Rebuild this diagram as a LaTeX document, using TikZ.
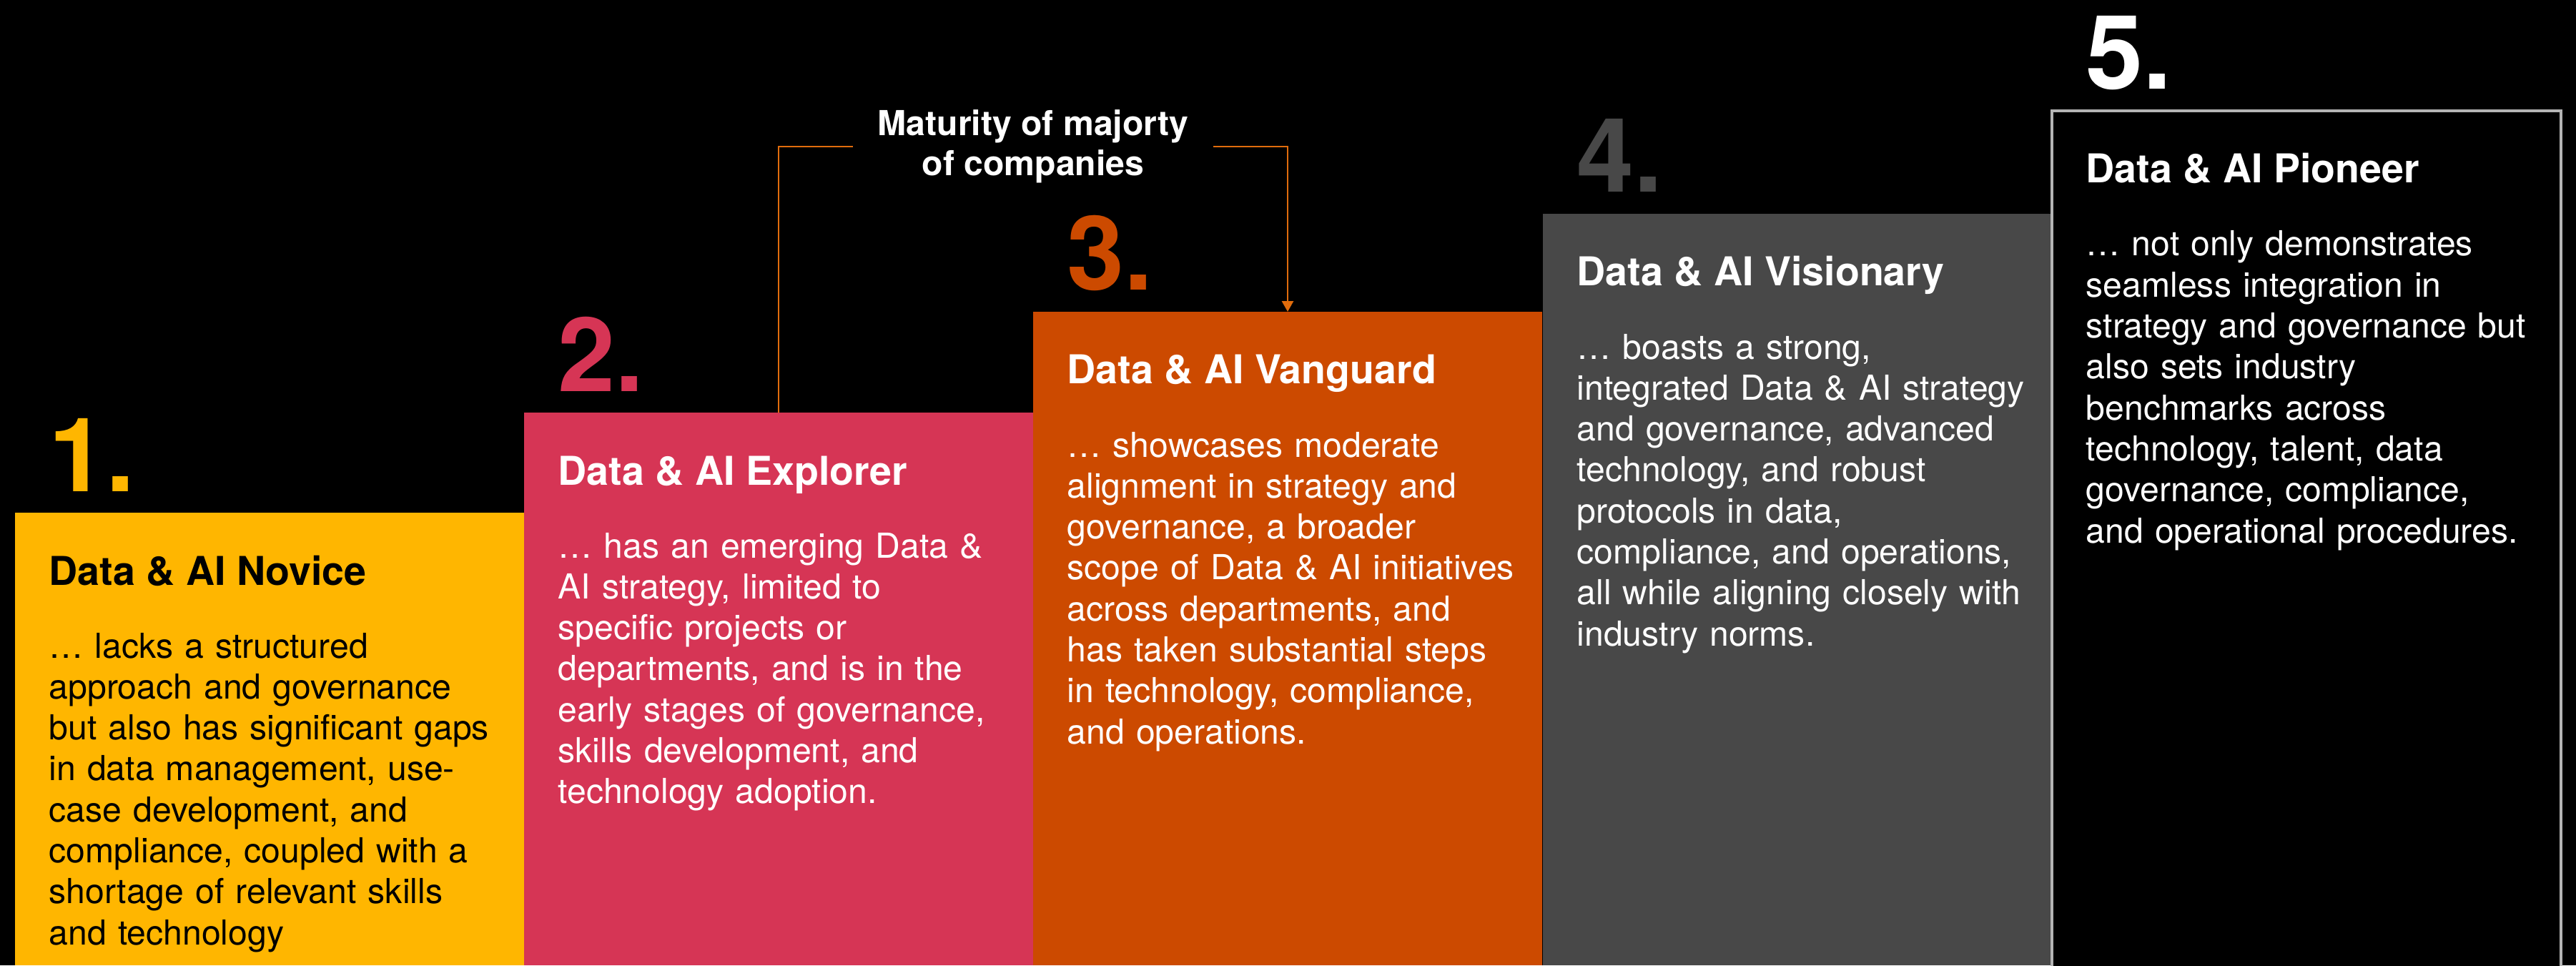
\documentclass[tikz,border=0pt]{standalone}
\usepackage{fontspec}
\setmainfont{TeX Gyre Heros}
\usepackage{tikz}
\usepackage{xcolor}
\usetikzlibrary{positioning,arrows.meta}

\definecolor{novice}{HTML}{FFB600}
\definecolor{explorer}{HTML}{D63555}
\definecolor{vanguard}{HTML}{CC4A00}
\definecolor{visionary}{HTML}{484848}
\definecolor{pioneer}{HTML}{B4B4B4}
\definecolor{bracketline}{HTML}{E06C0C}

\begin{document}
\begin{tikzpicture}[
        stage/.style={rectangle, anchor=north west, minimum width=7.12cm, inner sep=0pt, outer sep=0pt},
        stagenum/.style={anchor=base west, inner sep=0pt, font=\fontsize{41}{41}\selectfont\bfseries},
        heading/.style={anchor=base west, inner sep=0pt, font=\fontsize{15.8}{19}\selectfont\bfseries},
        body/.style={anchor=base west, inner sep=0pt, text width=6.6cm, align=left, font=\fontsize{13.7}{16.3}\selectfont},
        callout/.style={align=center, inner xsep=0.34cm, inner ysep=0pt, text=white, font=\fontsize{13.7}{15.9}\selectfont\bfseries},
        bracket/.style={draw=bracketline, line width=0.8pt}
    ]
        % Background
        \fill[black] (0,0) rectangle (36.03,13.5);
        \useasboundingbox (0,0) rectangle (36.03,13.5);

        % Stage 1
        \node[stage, fill=novice, minimum height=6.33cm] (s1) at (0.21,6.33) {};
        \node[stagenum, text=novice] (n1) at ([xshift=0.47cm, yshift=0.30cm]s1.north west) {1.};
        \node[heading, text=black] (h1) at ([xshift=0.47cm, yshift=-1.01cm]s1.north west) {Data \& AI Novice};
        \node[body, text=black] (b1) at ([yshift=-1.02cm]h1.base west) {… lacks a structured\\
            approach and governance\\ but also has significant gaps\\ in data management, use-\\
            case development, and\\ compliance, coupled with a\\ shortage of relevant skills\\ and technology};

        % Stage 2
        \node[stage, fill=explorer, minimum height=7.73cm] (s2) at (7.33,7.73) {};
        \node[stagenum, text=explorer] (n2) at ([xshift=0.47cm, yshift=0.30cm]s2.north west) {2.};
        \node[heading, text=white] (h2) at ([xshift=0.47cm, yshift=-1.01cm]s2.north west) {Data \& AI Explorer};
        \node[body, text=white] (b2) at ([yshift=-1.02cm]h2.base west) {… has an emerging Data \&\\
            AI strategy, limited to\\ specific projects or\\ departments, and is in the\\
            early stages of governance,\\ skills development, and\\ technology adoption.};

        % Stage 3
        \node[stage, fill=vanguard, minimum height=9.14cm] (s3) at (14.45,9.14) {};
        \node[stagenum, text=vanguard] (n3) at ([xshift=0.47cm, yshift=0.30cm]s3.north west) {3.};
        \node[heading, text=white] (h3) at ([xshift=0.47cm, yshift=-1.01cm]s3.north west) {Data \& AI Vanguard};
        \node[body, text=white] (b3) at ([yshift=-1.02cm]h3.base west) {… showcases moderate\\
            alignment in strategy and\\ governance, a broader\\ scope of Data \& AI initiatives\\
            across departments, and\\ has taken substantial steps\\ in technology, compliance,\\ and operations.};

        % Stage 4
        \node[stage, fill=visionary, minimum height=10.51cm] (s4) at (21.58,10.51) {};
        \node[stagenum, text=visionary] (n4) at ([xshift=0.47cm, yshift=0.30cm]s4.north west) {4.};
        \node[heading, text=white] (h4) at ([xshift=0.47cm, yshift=-1.01cm]s4.north west) {Data \& AI Visionary};
        \node[body, text=white] (b4) at ([yshift=-1.02cm]h4.base west) {… boasts a strong,\\
            integrated Data \& AI strategy\\ and governance, advanced\\ technology, and robust\\
            protocols in data,\\ compliance, and operations,\\ all while aligning closely with\\ industry norms.};

        % Stage 5 (outlined, runs off the bottom edge)
        \node[stage, fill=black, draw=pioneer, line width=0.9pt, minimum height=12.3cm] (s5) at (28.70,11.95) {};
        \node[stagenum, text=white] (n5) at ([xshift=0.47cm, yshift=0.30cm]s5.north west) {5.};
        \node[heading, text=white] (h5) at ([xshift=0.47cm, yshift=-1.01cm]s5.north west) {Data \& AI Pioneer};
        \node[body, text=white] (b5) at ([yshift=-1.02cm]h5.base west) {… not only demonstrates\\
            seamless integration in\\ strategy and governance but\\ also sets industry\\
            benchmarks across\\ technology, talent, data\\ governance, compliance,\\ and operational procedures.};

        % Majority marker
        \node[callout] (majority) at (14.45,11.45) {Maturity of majorty\\ of companies};
        \draw[bracket] (majority.west) -| (s2.north);
        \draw[bracket, -{Triangle[width=0.16cm, length=0.15cm]}] (majority.east) -| (s3.north);
    \end{tikzpicture}
\end{document}
